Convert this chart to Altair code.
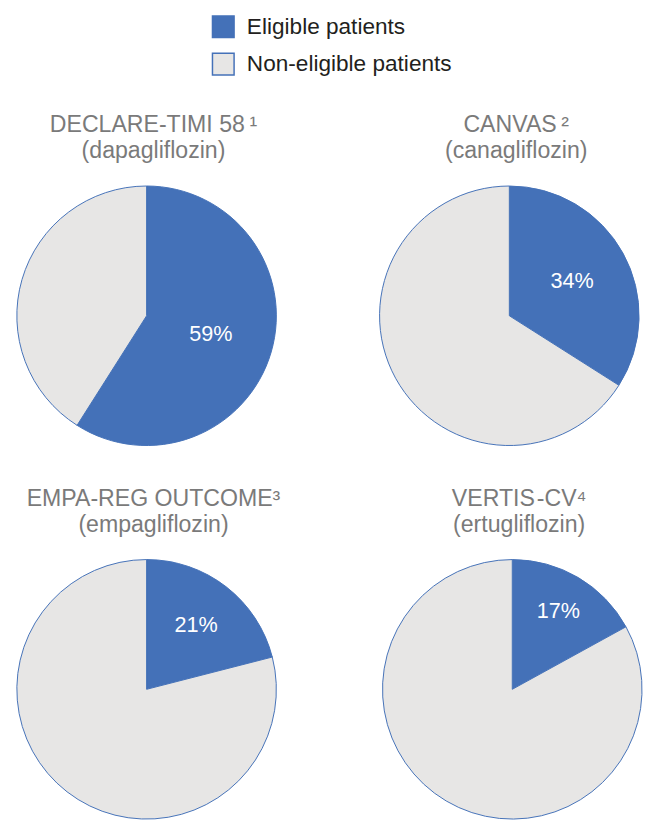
import altair as alt
import pandas as pd

# ---- data ----
trials = ["DECLARE-TIMI 58\u2009\u00b9", "CANVAS\u2009\u00b2", "EMPA-REG OUTCOME\u00b3", "VERTIS\u200a-CV\u2074"]
drugs = ["(dapagliflozin)", "(canagliflozin)", "(empagliflozin)", "(ertugliflozin)"]
eligible_pct = [59, 34, 21, 17]
categories = ["Eligible patients", "Non-eligible patients"]

# ---- style ----
colors = ["#4471b8", "#e7e6e5"]
BLUE = "#4471b8"
FONT = "Liberation Sans"
label_radius = [68, 73, 82, 92]
PIE = 264


def pie(i):
    df = pd.DataFrame({
        "category": categories,
        "value": [eligible_pct[i], 100 - eligible_pct[i]],
        "order": [0, 1],
        "label": [f"{eligible_pct[i]}%", ""],
    })
    base = alt.Chart(df).encode(
        theta=alt.Theta("value:Q", stack=True),
        order=alt.Order("order:Q"),
    )
    arc = base.mark_arc(stroke=BLUE, strokeWidth=1).encode(
        color=alt.Color(
            "category:N",
            scale=alt.Scale(domain=categories, range=colors),
            legend=alt.Legend(
                orient="none", legendX=198, legendY=-174, direction="vertical",
                title=None, symbolType="square", symbolSize=484,
                symbolStrokeColor=BLUE, symbolStrokeWidth=1.5, symbolOpacity=1,
                labelFontSize=23, labelFont=FONT, labelColor="#231f20",
                labelOffset=12, rowPadding=10, padding=0, labelLimit=400,
            ),
        )
    )
    text = base.mark_text(radius=label_radius[i], fontSize=22, color="white", font=FONT).encode(
        text="label:N"
    )
    return alt.layer(arc, text).properties(
        width=PIE, height=PIE,
        title=alt.TitleParams(
            text=[trials[i], drugs[i]], fontSize=23.5, font=FONT, color="#7a7a7a",
            fontWeight="normal", lineHeight=26, offset=22, anchor="middle", dx=7,
        ),
    )


row1 = alt.hconcat(pie(0), pie(1), spacing=101)
row2 = alt.hconcat(pie(2), pie(3), spacing=101)
chart = alt.vconcat(row1, row2, spacing=40).properties(
    padding={"left": 7, "top": 0, "right": 0, "bottom": 0}
).configure_view(stroke=None)

chart.save("out.html", embed_options={"renderer": "svg", "actions": False})
